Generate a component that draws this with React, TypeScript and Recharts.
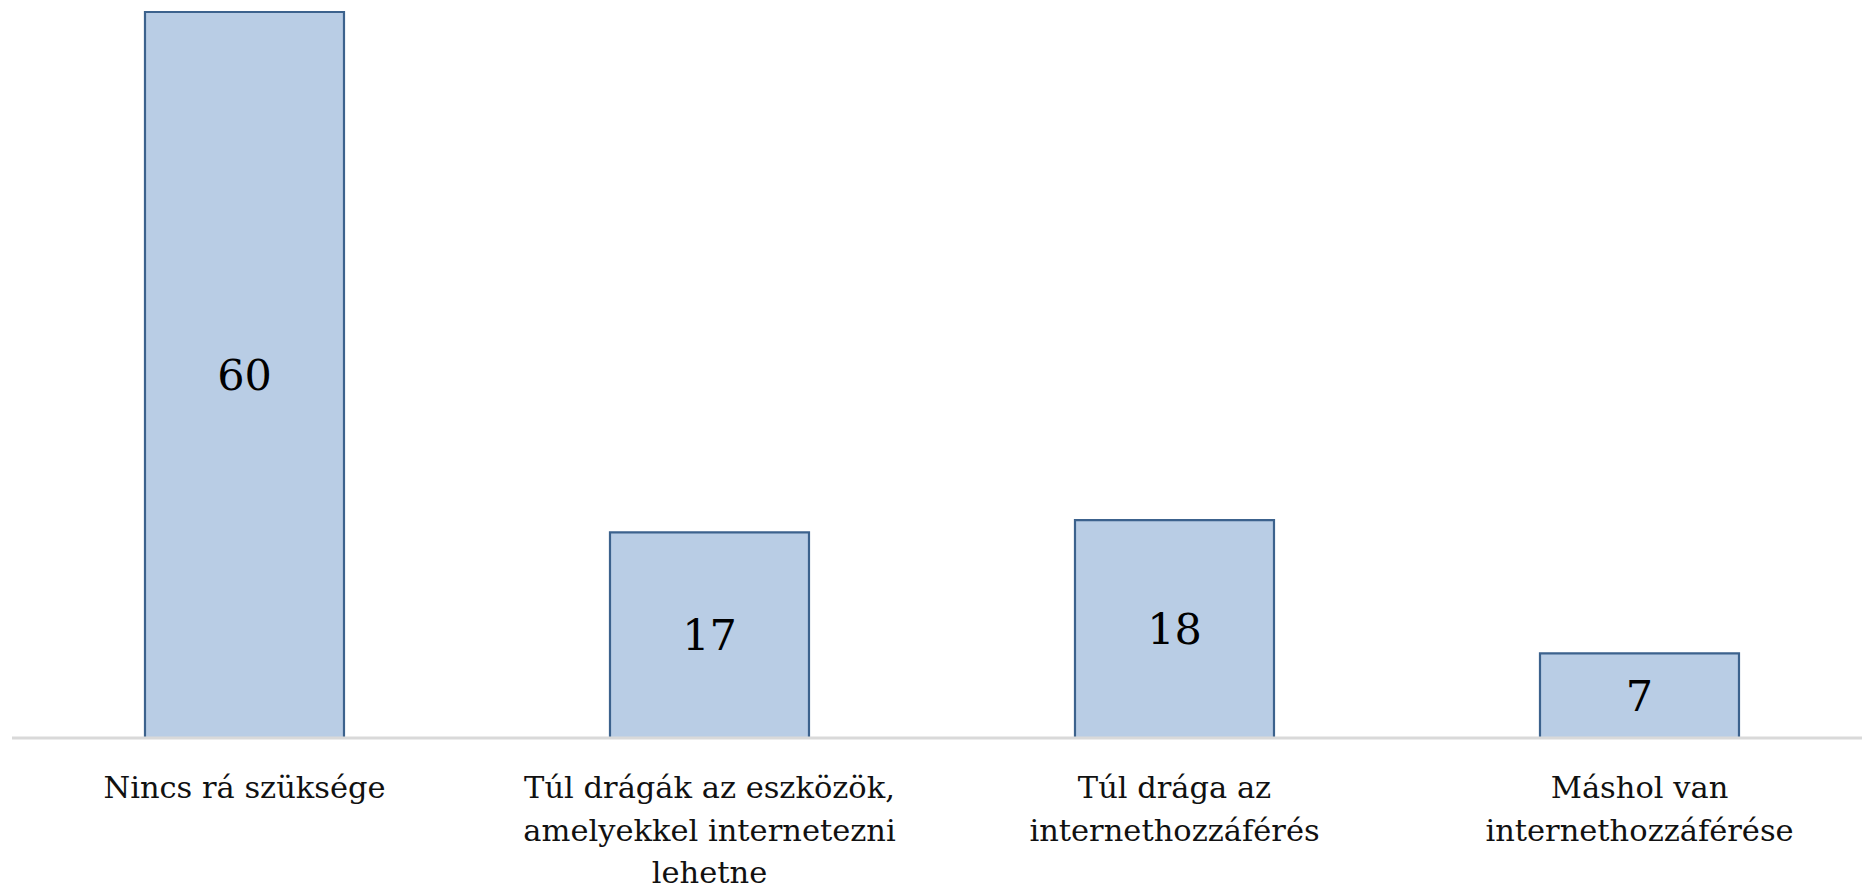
import React from "react"
import { Bar, BarChart, XAxis, YAxis, LabelList } from "recharts"

const categories = [
  "Nincs rá szüksége",
  "Túl drágák az eszközök,\namelyekkel internetezni\nlehetne",
  "Túl drága az\ninternethozzáférés",
  "Máshol van\ninternethozzáférése",
]
const values = [60, 17, 18, 7]

const data = categories.map((name, i) => ({ name, value: values[i] }))

const FONT = "'DejaVu Serif', serif"

const MultiLineTick = ({ x, y, payload }: any) => {
  const lines = String(payload.value).split("\n")
  return (
    <g transform={`translate(${x},${y})`}>
      {lines.map((line, i) => (
        <text
          key={i}
          x={0}
          y={52 + i * 42.5}
          textAnchor="middle"
          fill="#111"
          fontFamily={FONT}
          fontSize={30.5}
        >
          {line}
        </text>
      ))}
    </g>
  )
}

export default function App() {
  return (
    <div
      style={{
        position: "absolute",
        left: 0,
        top: 0,
        width: 1862,
        height: 889,
        overflow: "hidden",
        background: "#fff",
      }}
    >
      <BarChart
        width={1880}
        height={889}
        data={data}
        margin={{ top: 12, right: 8, left: 12, bottom: 0 }}
        barCategoryGap="28.6%"
      >
        <XAxis
          dataKey="name"
          height={151}
          interval={0}
          tickLine={false}
          axisLine={{ stroke: "#d9d9d9", strokeWidth: 3 }}
          tick={<MultiLineTick />}
        />
        <YAxis hide domain={[0, 60]} />
        <Bar
          dataKey="value"
          fill="#b9cde5"
          stroke="#3c628d"
          strokeWidth={2.2}
          isAnimationActive={false}
        >
          <LabelList
            dataKey="value"
            position="center"
            fill="#000"
            fontFamily={FONT}
            fontSize={43}
          />
        </Bar>
      </BarChart>
    </div>
  )
}
